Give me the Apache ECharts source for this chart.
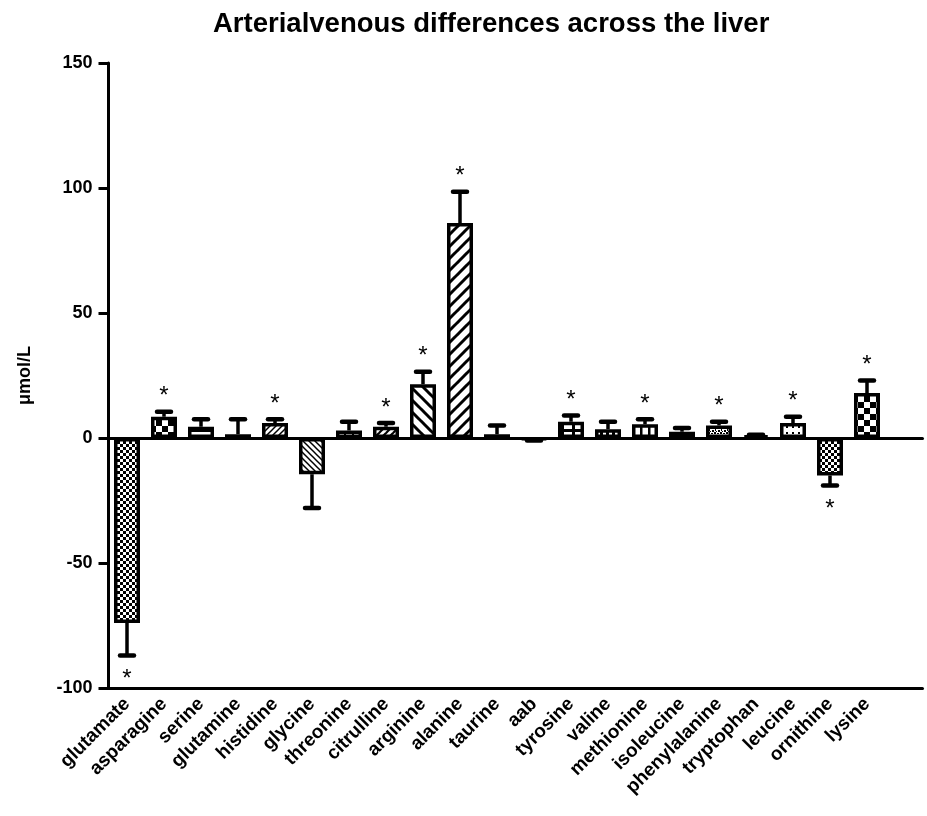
<!DOCTYPE html>
<html>
<head>
<meta charset="utf-8">
<script src="https://cdn.jsdelivr.net/npm/echarts@6/dist/echarts.min.js"></script>
<style>
html,body{margin:0;padding:0;background:#fff;}
#chart{width:927px;height:816px;}
</style>
</head>
<body>
<div id="chart"></div>
<script>
const titleText = 'Arterialvenous differences across the liver';
const yAxisName = 'μmol/L';
const categories = ['glutamate','asparagine','serine','glutamine','histidine','glycine','threonine','citrulline','arginine','alanine','taurine','aab','tyrosine','valine','methionine','isoleucine','phenylalanine','tryptophan','leucine','ornithine','lysine',''];
const values = [-74, 8.5, 4.5, 1.5, 6, -14.5, 3, 4.5, 21.5, 86, 1.5, -0.5, 6.5, 3.5, 5.5, 2.5, 5, 1, 6, -15, 18];
const errorEnds = [-87, 10.5, 7.5, 7.5, 7.5, -28, 6.5, 6, 26.5, 98.5, 5, -1, 9, 6.5, 7.5, 4, 6.5, 1.3, 8.5, -19, 23];
const significant = [1,1,0,0,1,0,0,1,1,1,0,0,1,0,1,0,1,0,1,1,1];
const yTicks = {min: -100, max: 150, interval: 50};

const FONT = '"Liberation Sans", Arial, sans-serif';

function tile(size, draw) {
  const c = document.createElement('canvas');
  c.width = size; c.height = size;
  const ctx = c.getContext('2d');
  ctx.fillStyle = '#fff'; ctx.fillRect(0, 0, size, size);
  ctx.fillStyle = '#000'; ctx.strokeStyle = '#000';
  draw(ctx, size);
  return {image: c, repeat: 'repeat'};
}
const checker = n => tile(2 * n, (x) => { x.fillRect(0, 0, n, n); x.fillRect(n, n, n, n); });
const hLines = (s, w) => tile(s, (x) => { x.fillRect(0, 0, s, w); });
const vLines = (s, w) => tile(s, (x) => { x.fillRect(0, 0, w, s); });
const grid = (s, w) => tile(s, (x) => { x.fillRect(0, 0, s, w); x.fillRect(0, 0, w, s); });
const dots = (s, r) => tile(s, (x) => { x.fillRect(0, 0, r, r); });
const diag = (s, w, dir) => tile(s, (x, n) => {
  x.lineWidth = w;
  for (const o of [-n, 0, n]) {
    x.beginPath();
    if (dir === '/') { x.moveTo(o - 1, n + 1); x.lineTo(o + n + 1, -1); }
    else { x.moveTo(o - 1, -1); x.lineTo(o + n + 1, n + 1); }
    x.stroke();
  }
});
const speckle = () => tile(6, (x) => {
  x.fillRect(0, 0, 2, 2); x.fillRect(3, 1, 2, 1); x.fillRect(1, 3, 1, 2); x.fillRect(4, 4, 2, 2); x.fillRect(2, 5, 1, 1);
});
const solid = () => tile(2, (x) => { x.fillRect(0, 0, 2, 2); });

const patterns = [
  checker(3), checker(6), hLines(5, 2), hLines(4, 1), diag(6, 1.5, '/'),
  diag(6, 1.5, '\\'), grid(8, 2), diag(7, 2.2, '/'), diag(12, 3, '\\'), diag(12, 3, '/'),
  hLines(4, 1.5), solid(), grid(11, 3), dots(6, 3), vLines(8, 2.5),
  hLines(4, 1.5), speckle(), solid(), dots(6, 2), checker(3), checker(6)
];

const barData = values.map((v, i) => ({value: v, itemStyle: {color: patterns[i]}}));
const errData = values.map((v, i) => [i, v, errorEnds[i], significant[i]]);

const chart = echarts.init(document.getElementById('chart'), null, {renderer: 'canvas'});
chart.setOption({
  animation: false,
  backgroundColor: '#fff',
  title: {text: titleText, left: 208, top: 5,
    textStyle: {fontSize: 27.5, fontWeight: 'bold', color: '#000', fontFamily: FONT}},
  grid: {left: 108.5, right: 4.5, top: 63, bottom: 128, containLabel: false},
  xAxis: [{
    type: 'category', data: categories, position: 'bottom',
    axisLine: {onZero: false, lineStyle: {color: '#000', width: 3}},
    axisTick: {alignWithLabel: true, length: 9, lineStyle: {color: '#000', width: 3}},
    axisLabel: {rotate: 45, interval: 0, fontSize: 19, fontWeight: 'bold', color: '#000', margin: 13, fontFamily: FONT},
    splitLine: {show: false}
  }, {
    type: 'category', data: categories, position: 'top',
    axisLine: {onZero: true, lineStyle: {color: '#000', width: 3}},
    axisTick: {show: false}, axisLabel: {show: false}, splitLine: {show: false}
  }],
  yAxis: {
    type: 'value', min: yTicks.min, max: yTicks.max, interval: yTicks.interval,
    axisLine: {show: true, lineStyle: {color: '#000', width: 3}},
    axisTick: {show: true, length: 10, lineStyle: {color: '#000', width: 3}},
    axisLabel: {fontSize: 18, fontWeight: 'bold', color: '#000', margin: 16, fontFamily: FONT},
    splitLine: {show: false},
    name: yAxisName, nameLocation: 'middle', nameGap: 74, nameRotate: 90,
    nameTextStyle: {fontSize: 18, fontWeight: 'bold', color: '#000', fontFamily: FONT}
  },
  series: [{
    type: 'bar', xAxisIndex: 0, data: barData, barWidth: 26,
    itemStyle: {borderColor: '#000', borderWidth: 3.5},
    z: 2
  }, {
    type: 'custom', xAxisIndex: 0, data: errData, z: 3,
    dimensions: ['x', 'v', 'e', 's'],
    encode: {x: 0, y: [1, 2]},
    renderItem: function (params, api) {
      const i = api.value(0);
      const p0 = api.coord([i, api.value(1)]);
      const p1 = api.coord([i, api.value(2)]);
      const up = api.value(2) >= api.value(1);
      const children = [
        {type: 'line', shape: {x1: p0[0], y1: p0[1], x2: p1[0], y2: p1[1]}, style: {stroke: '#000', lineWidth: 3.5}},
        {type: 'line', shape: {x1: p1[0] - 7, y1: p1[1], x2: p1[0] + 7, y2: p1[1]}, style: {stroke: '#000', lineWidth: 4.5, lineCap: 'round'}}
      ];
      if (api.value(3)) {
        children.push({type: 'text', x: p1[0], y: up ? p1[1] - 15 : p1[1] + 24,
          style: {text: '*', fill: '#000', font: '24px ' + FONT, align: 'center', verticalAlign: 'middle'}});
      }
      return {type: 'group', children: children};
    }
  }]
});
</script>
</body>
</html>
